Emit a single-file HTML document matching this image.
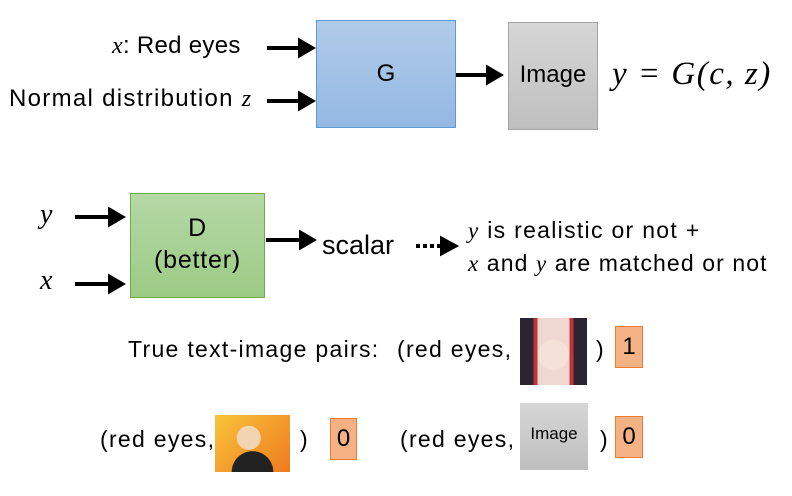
<!DOCTYPE html>
<html><head><meta charset="utf-8"><style>
body{margin:0;width:792px;height:496px;background:#fff;position:relative;overflow:hidden;font-family:"Liberation Sans",sans-serif;color:#000}
.a{position:absolute;white-space:nowrap}
.m{font-family:"Liberation Serif",serif;font-style:italic}
.box{position:absolute;box-sizing:border-box}
.num{position:absolute;box-sizing:border-box;background:#f4b183;border:1.5px solid #ed7d31;font-size:24px;text-align:center}
.t{font-size:23px;letter-spacing:1.3px}
</style></head><body>
<svg class="a" style="left:0;top:0" width="792" height="496">
<g stroke="#000" stroke-width="4" fill="none">
<line x1="267" y1="48" x2="302" y2="48"/><polygon points="300,41 312,48 300,55" fill="#000"/>
<line x1="267" y1="101" x2="302" y2="101"/><polygon points="300,94 312,101 300,108" fill="#000"/>
<line x1="456" y1="75" x2="490" y2="75"/><polygon points="488,68 500,75 488,82" fill="#000"/>
<line x1="75" y1="217" x2="112" y2="217"/><polygon points="110,210 122,217 110,224" fill="#000"/>
<line x1="75" y1="284" x2="112" y2="284"/><polygon points="110,277 122,284 110,291" fill="#000"/>
<line x1="266" y1="240" x2="303" y2="240"/><polygon points="301,233 313,240 301,247" fill="#000"/>
<line x1="416" y1="246" x2="442" y2="246" stroke-dasharray="4,3"/><polygon points="442,239 455,246 442,253" fill="#000"/>
</g></svg>
<div class="a" style="left:112px;top:32px;font-size:24px;letter-spacing:0.3px"><span class="m">x</span>: Red eyes</div>
<div class="a" style="left:9px;top:85px;font-size:24px;letter-spacing:1.3px">Normal distribution <span class="m">z</span></div>
<div class="box" style="left:316px;top:20px;width:140px;height:108px;background:linear-gradient(#b1cbe9,#93b8e3);border:1px solid #5b9bd5"></div>
<div class="a" style="left:316px;top:60px;width:140px;text-align:center;font-size:24px">G</div>
<div class="box" style="left:508px;top:22px;width:90px;height:108px;background:linear-gradient(#d6d6d6,#bfbfbf);border:1px solid #a5a5a5"></div>
<div class="a" style="left:508px;top:61px;width:90px;text-align:center;font-size:24px">Image</div>
<div class="a m" style="left:612px;top:56px;font-size:33px;letter-spacing:1.5px">y = G(c, z)</div>
<div class="a m" style="left:40px;top:199px;font-size:28px">y</div>
<div class="a m" style="left:40px;top:265px;font-size:28px">x</div>
<div class="box" style="left:130px;top:193px;width:135px;height:105px;background:linear-gradient(#b5d8a6,#9bcb84);border:1px solid #70ad47"></div>
<div class="a" style="left:130px;top:212px;width:135px;text-align:center;font-size:25px;line-height:32px;letter-spacing:0.8px">D<br>(better)</div>
<div class="a" style="left:322px;top:230px;font-size:27px">scalar</div>
<div class="a t" style="left:468px;top:217px"><span class="m">y</span> is realistic or not +</div>
<div class="a t" style="left:468px;top:250px;letter-spacing:1.1px"><span class="m">x</span> and <span class="m">y</span> are matched or not</div>
<div class="a t" style="left:128px;top:336px">True text-image pairs:</div>
<div class="a t" style="left:397px;top:336px">(red eyes,</div>
<div class="box" style="left:520px;top:318px;width:67px;height:67px;background:radial-gradient(circle at 50% 55%,#f6e1d8 0 30%,transparent 31%),linear-gradient(90deg,#2a2530 0 20%,#c0333a 20% 26%,#efd8d2 26% 74%,#c0333a 74% 80%,#2a2530 80%)"></div>
<div class="a t" style="left:596px;top:336px">)</div>
<div class="num" style="left:615px;top:326px;width:28px;height:42px;line-height:40px">1</div>
<div class="a t" style="left:100px;top:426px">(red eyes,</div>
<div class="box" style="left:215px;top:415px;width:75px;height:57px;background:radial-gradient(circle at 45% 40%,#f2d4b0 0 22%,transparent 23%),radial-gradient(circle at 50% 100%,#222 0 30%,transparent 31%),linear-gradient(135deg,#f7c43a,#ef7a1f)"></div>
<div class="a t" style="left:300px;top:426px">)</div>
<div class="num" style="left:330px;top:418px;width:27px;height:42px;line-height:40px">0</div>
<div class="a t" style="left:400px;top:426px">(red eyes,</div>
<div class="box" style="left:520px;top:403px;width:68px;height:67px;background:linear-gradient(#d6d6d6,#bfbfbf)"></div>
<div class="a" style="left:520px;top:424px;width:68px;text-align:center;font-size:17px">Image</div>
<div class="a t" style="left:600px;top:426px">)</div>
<div class="num" style="left:615px;top:416px;width:28px;height:42px;line-height:40px">0</div>
</body></html>
